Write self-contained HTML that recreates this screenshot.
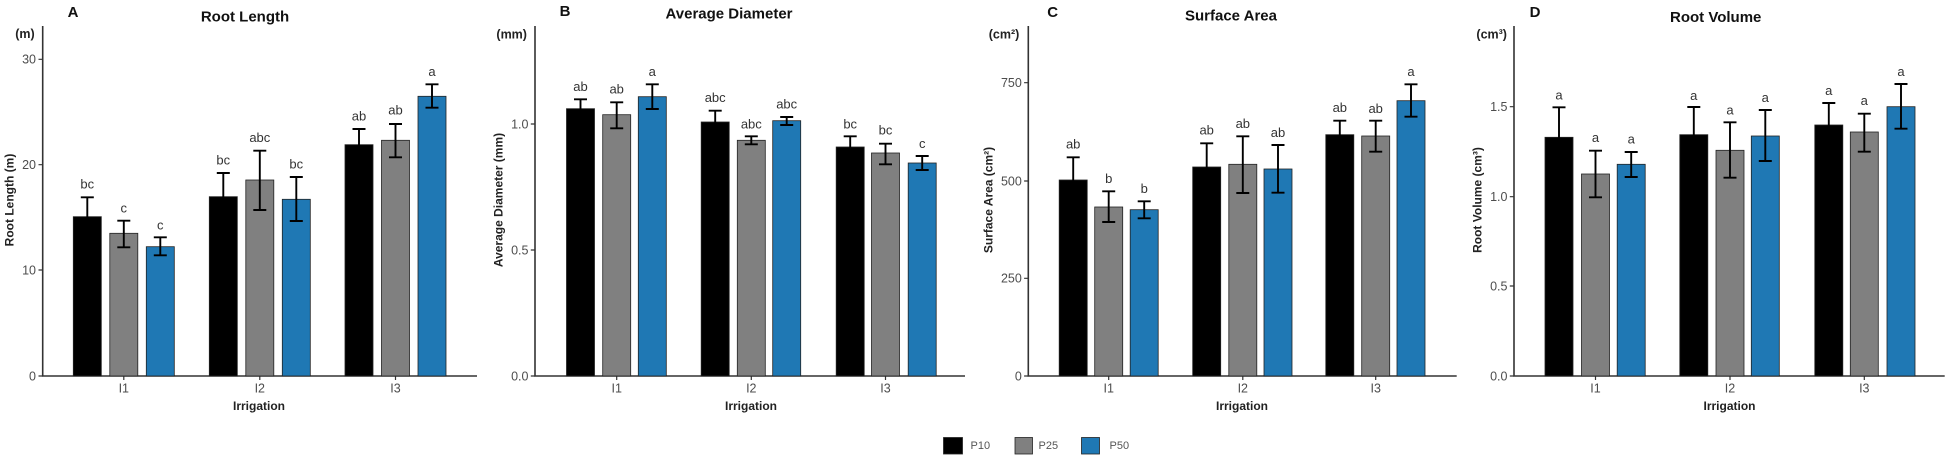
<!DOCTYPE html>
<html><head><meta charset="utf-8"><style>
html,body{margin:0;padding:0;background:#fff;}
svg{display:block;}
text{font-family:"Liberation Sans",Arial,sans-serif;}
.tl{font-size:12.5px;fill:#4d4d4d;text-anchor:end;}
.xl{font-size:12.5px;fill:#4d4d4d;text-anchor:middle;}
.ax{stroke:#333;stroke-width:1.6;fill:none;}
.tk{stroke:#333;stroke-width:1.2;fill:none;}
.tt{font-size:15px;font-weight:bold;fill:#111;text-anchor:middle;}
.pl{font-size:15px;font-weight:bold;fill:#111;text-anchor:middle;}
.un{font-size:12.5px;font-weight:bold;fill:#222;text-anchor:middle;}
.yl{font-size:12px;font-weight:bold;fill:#222;text-anchor:middle;}
.xt{font-size:12px;font-weight:bold;fill:#222;text-anchor:middle;}
.lt{font-size:13px;fill:#333;text-anchor:middle;}
.k{fill:#000;stroke:#222;stroke-width:0.8;}
.g{fill:#808080;stroke:#222;stroke-width:0.8;}
.b{fill:#1f78b4;stroke:#222;stroke-width:0.8;}
.eb{stroke:#000;stroke-width:1.9;fill:none;}
.lg{font-size:11px;fill:#555;}
</style></head><body>
<svg width="1949" height="458" viewBox="0 0 1949 458" xmlns="http://www.w3.org/2000/svg">

<!-- ============ PANEL A ============ -->
<text class="pl" x="73" y="17">A</text>
<text class="tt" x="245" y="21.5">Root Length</text>
<text class="un" x="25" y="38">(m)</text>
<text class="yl" transform="translate(13.5,200) rotate(-90)">Root Length (m)</text>
<path class="ax" d="M42.7 26 V376 H477"/>
<path class="tk" d="M38.5 59.3H42.7 M38.5 164.7H42.7 M38.5 270H42.7 M38.5 376H42.7 M123.8 376V380 M259.8 376V380 M395.5 376V380"/>
<text class="tl" x="36" y="63.5">30</text>
<text class="tl" x="36" y="169">20</text>
<text class="tl" x="36" y="274.3">10</text>
<text class="tl" x="36" y="380.3">0</text>
<text class="xl" x="123.8" y="392.5">I1</text>
<text class="xl" x="259.8" y="392.5">I2</text>
<text class="xl" x="395.5" y="392.5">I3</text>
<text class="xt" x="259" y="410">Irrigation</text>

<rect class="k" x="73.3" y="216.7" width="28" height="159.3"/>
<rect class="g" x="109.8" y="233.3" width="28" height="142.7"/>
<rect class="b" x="146.3" y="246.7" width="28" height="129.3"/>
<rect class="k" x="209.3" y="196.7" width="28" height="179.3"/>
<rect class="g" x="245.8" y="180" width="28" height="196"/>
<rect class="b" x="282.3" y="199.3" width="28" height="176.7"/>
<rect class="k" x="345" y="144.7" width="28" height="231.3"/>
<rect class="g" x="381.5" y="140.3" width="28" height="235.7"/>
<rect class="b" x="418" y="96.3" width="28" height="279.7"/>

<path class="eb" d="M87.3 197.3V236 M80.8 197.3H93.8 M80.8 236H93.8
M123.8 220.7V247.3 M117.3 220.7H130.3 M117.3 247.3H130.3
M160.3 237.3V255.3 M153.8 237.3H166.8 M153.8 255.3H166.8
M223.3 173V220 M216.8 173H229.8 M216.8 220H229.8
M259.8 150.7V210 M253.3 150.7H266.3 M253.3 210H266.3
M296.3 177V221 M289.8 177H302.8 M289.8 221H302.8
M359 129V160 M352.5 129H365.5 M352.5 160H365.5
M395.5 124V157.3 M389 124H402 M389 157.3H402
M432 84.3V107.7 M425.5 84.3H438.5 M425.5 107.7H438.5"/>

<text class="lt" x="87.3" y="188.5">bc</text>
<text class="lt" x="123.8" y="212.5">c</text>
<text class="lt" x="160.3" y="229.5">c</text>
<text class="lt" x="223.3" y="164.5">bc</text>
<text class="lt" x="259.8" y="142.2">abc</text>
<text class="lt" x="296.3" y="168.5">bc</text>
<text class="lt" x="359" y="120.5">ab</text>
<text class="lt" x="395.5" y="114.5">ab</text>
<text class="lt" x="432" y="76.2">a</text>

<!-- ============ PANEL B ============ -->
<text class="pl" x="565" y="16">B</text>
<text class="tt" x="729" y="18.5">Average Diameter</text>
<text class="un" x="511.7" y="38.5">(mm)</text>
<text class="yl" transform="translate(502.5,200) rotate(-90)">Average Diameter (mm)</text>
<path class="ax" d="M535 26 V376 H965"/>
<path class="tk" d="M530.8 124H535 M530.8 250H535 M530.8 376H535 M616.7 376V380 M751.3 376V380 M885.5 376V380"/>
<text class="tl" x="528.5" y="128.3">1.0</text>
<text class="tl" x="528.5" y="254.3">0.5</text>
<text class="tl" x="528.5" y="380.3">0.0</text>
<text class="xl" x="616.7" y="392.5">I1</text>
<text class="xl" x="751.3" y="392.5">I2</text>
<text class="xl" x="885.5" y="392.5">I3</text>
<text class="xt" x="751" y="410">Irrigation</text>

<rect class="k" x="566.5" y="108.7" width="28" height="267.3"/>
<rect class="g" x="602.7" y="114.7" width="28" height="261.3"/>
<rect class="b" x="638.3" y="96.7" width="28" height="279.3"/>
<rect class="k" x="701.2" y="122" width="28" height="254"/>
<rect class="g" x="737.3" y="140.3" width="28" height="235.7"/>
<rect class="b" x="772.7" y="120.7" width="28" height="255.3"/>
<rect class="k" x="836.2" y="147" width="28" height="229"/>
<rect class="g" x="871.5" y="153" width="28" height="223"/>
<rect class="b" x="908.2" y="163" width="28" height="213"/>

<path class="eb" d="M580.5 99.3V118 M574 99.3H587 M574 118H587
M616.7 102.3V128.3 M610.2 102.3H623.2 M610.2 128.3H623.2
M652.3 84.3V109 M645.8 84.3H658.8 M645.8 109H658.8
M715.2 110.7V133 M708.7 110.7H721.7 M708.7 133H721.7
M751.3 136.3V144.3 M744.8 136.3H757.8 M744.8 144.3H757.8
M786.7 117V125 M780.2 117H793.2 M780.2 125H793.2
M850.2 136.3V158 M843.7 136.3H856.7 M843.7 158H856.7
M885.5 143.7V164.3 M879 143.7H892 M879 164.3H892
M922.2 156V170 M915.7 156H928.7 M915.7 170H928.7"/>

<text class="lt" x="580.5" y="91.2">ab</text>
<text class="lt" x="616.7" y="93.5">ab</text>
<text class="lt" x="652.3" y="76.2">a</text>
<text class="lt" x="715.2" y="102.2">abc</text>
<text class="lt" x="751.3" y="128.5">abc</text>
<text class="lt" x="786.7" y="108.5">abc</text>
<text class="lt" x="850.2" y="128.5">bc</text>
<text class="lt" x="885.5" y="134.5">bc</text>
<text class="lt" x="922.2" y="147.8">c</text>

<!-- ============ PANEL C ============ -->
<text class="pl" x="1052.7" y="17">C</text>
<text class="tt" x="1231" y="20.7">Surface Area</text>
<text class="un" x="1004" y="38.5">(cm²)</text>
<text class="yl" transform="translate(992.5,200) rotate(-90)">Surface Area (cm²)</text>
<path class="ax" d="M1028.3 26 V376 H1456.7"/>
<path class="tk" d="M1024.1 82.7H1028.3 M1024.1 181H1028.3 M1024.1 278.3H1028.3 M1024.1 376H1028.3 M1108.7 376V380 M1242.8 376V380 M1375.7 376V380"/>
<text class="tl" x="1021.8" y="87">750</text>
<text class="tl" x="1021.8" y="185.3">500</text>
<text class="tl" x="1021.8" y="282.6">250</text>
<text class="tl" x="1021.8" y="380.3">0</text>
<text class="xl" x="1108.7" y="392.5">I1</text>
<text class="xl" x="1242.8" y="392.5">I2</text>
<text class="xl" x="1375.7" y="392.5">I3</text>
<text class="xt" x="1242" y="410">Irrigation</text>

<rect class="k" x="1059.2" y="180" width="28" height="196"/>
<rect class="g" x="1094.7" y="207" width="28" height="169"/>
<rect class="b" x="1130.2" y="209.7" width="28" height="166.3"/>
<rect class="k" x="1192.7" y="167" width="28" height="209"/>
<rect class="g" x="1228.8" y="164.3" width="28" height="211.7"/>
<rect class="b" x="1264" y="169" width="28" height="207"/>
<rect class="k" x="1325.8" y="134.7" width="28" height="241.3"/>
<rect class="g" x="1361.7" y="136" width="28" height="240"/>
<rect class="b" x="1397" y="100.7" width="28" height="275.3"/>

<path class="eb" d="M1073.2 157.3V203 M1066.7 157.3H1079.7 M1066.7 203H1079.7
M1108.7 191.3V222 M1102.2 191.3H1115.2 M1102.2 222H1115.2
M1144.2 201.3V218.3 M1137.7 201.3H1150.7 M1137.7 218.3H1150.7
M1206.7 143.3V191 M1200.2 143.3H1213.2 M1200.2 191H1213.2
M1242.8 136.3V193 M1236.3 136.3H1249.3 M1236.3 193H1249.3
M1278 145V192.7 M1271.5 145H1284.5 M1271.5 192.7H1284.5
M1339.8 120.7V149 M1333.3 120.7H1346.3 M1333.3 149H1346.3
M1375.7 120.7V151.7 M1369.2 120.7H1382.2 M1369.2 151.7H1382.2
M1411 84.3V116.7 M1404.5 84.3H1417.5 M1404.5 116.7H1417.5"/>

<text class="lt" x="1073.2" y="148.5">ab</text>
<text class="lt" x="1108.7" y="182.8">b</text>
<text class="lt" x="1144.2" y="192.8">b</text>
<text class="lt" x="1206.7" y="134.5">ab</text>
<text class="lt" x="1242.8" y="127.8">ab</text>
<text class="lt" x="1278" y="136.8">ab</text>
<text class="lt" x="1339.8" y="112.2">ab</text>
<text class="lt" x="1375.7" y="112.8">ab</text>
<text class="lt" x="1411" y="76.2">a</text>

<!-- ============ PANEL D ============ -->
<text class="pl" x="1535" y="17">D</text>
<text class="tt" x="1715.7" y="22">Root Volume</text>
<text class="un" x="1491.7" y="38.5">(cm³)</text>
<text class="yl" transform="translate(1481.5,200) rotate(-90)">Root Volume (cm³)</text>
<path class="ax" d="M1514 26 V376 H1944.7"/>
<path class="tk" d="M1509.8 106.7H1514 M1509.8 196.7H1514 M1509.8 286H1514 M1509.8 376H1514 M1595.5 376V380 M1730 376V380 M1864.3 376V380"/>
<text class="tl" x="1507.5" y="111">1.5</text>
<text class="tl" x="1507.5" y="201">1.0</text>
<text class="tl" x="1507.5" y="290.3">0.5</text>
<text class="tl" x="1507.5" y="380.3">0.0</text>
<text class="xl" x="1595.5" y="392.5">I1</text>
<text class="xl" x="1730" y="392.5">I2</text>
<text class="xl" x="1864.3" y="392.5">I3</text>
<text class="xt" x="1729.5" y="410">Irrigation</text>

<rect class="k" x="1545" y="137.3" width="28" height="238.7"/>
<rect class="g" x="1581.5" y="174" width="28" height="202"/>
<rect class="b" x="1617.2" y="164.3" width="28" height="211.7"/>
<rect class="k" x="1679.8" y="134.7" width="28" height="241.3"/>
<rect class="g" x="1716" y="150.3" width="28" height="225.7"/>
<rect class="b" x="1751.3" y="136" width="28" height="240"/>
<rect class="k" x="1814.8" y="125" width="28" height="251"/>
<rect class="g" x="1850.3" y="132" width="28" height="244"/>
<rect class="b" x="1887" y="106.7" width="28" height="269.3"/>

<path class="eb" d="M1559 107.3V167 M1552.5 107.3H1565.5 M1552.5 167H1565.5
M1595.5 150.7V197.3 M1589 150.7H1602 M1589 197.3H1602
M1631.2 152V177 M1624.7 152H1637.7 M1624.7 177H1637.7
M1693.8 107V162 M1687.3 107H1700.3 M1687.3 162H1700.3
M1730 122.3V177.7 M1723.5 122.3H1736.5 M1723.5 177.7H1736.5
M1765.3 110V161 M1758.8 110H1771.8 M1758.8 161H1771.8
M1828.8 103V147 M1822.3 103H1835.3 M1822.3 147H1835.3
M1864.3 113.7V151.7 M1857.8 113.7H1870.8 M1857.8 151.7H1870.8
M1901 84V128.7 M1894.5 84H1907.5 M1894.5 128.7H1907.5"/>

<text class="lt" x="1559" y="99.5">a</text>
<text class="lt" x="1595.5" y="142.2">a</text>
<text class="lt" x="1631.2" y="143.5">a</text>
<text class="lt" x="1693.8" y="100.2">a</text>
<text class="lt" x="1730" y="114.5">a</text>
<text class="lt" x="1765.3" y="102.2">a</text>
<text class="lt" x="1828.8" y="95.2">a</text>
<text class="lt" x="1864.3" y="105.2">a</text>
<text class="lt" x="1901" y="76.2">a</text>

<!-- ============ LEGEND ============ -->
<rect x="943.5" y="437.5" width="19" height="16.5" fill="#000" stroke="#222" stroke-width="0.8"/>
<text class="lg" x="970.5" y="449">P10</text>
<rect x="1015" y="437.5" width="17.5" height="16.5" fill="#808080" stroke="#222" stroke-width="0.8"/>
<text class="lg" x="1038.5" y="449">P25</text>
<rect x="1081.5" y="437.5" width="18" height="16.5" fill="#1f78b4" stroke="#222" stroke-width="0.8"/>
<text class="lg" x="1109.5" y="449">P50</text>
</svg>
</body></html>
